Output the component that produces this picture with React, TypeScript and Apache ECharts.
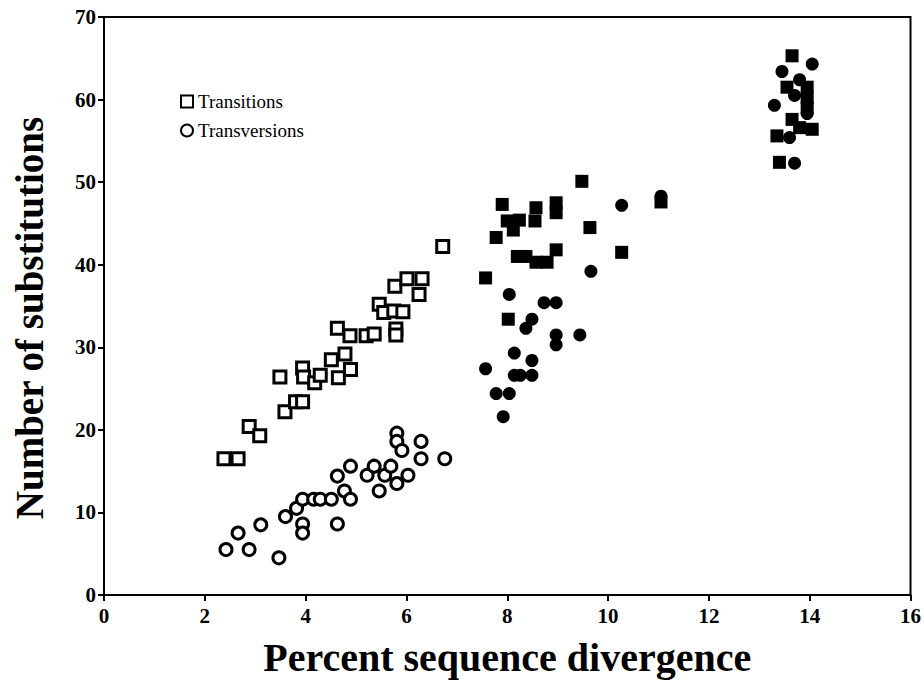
import React, { useEffect, useRef } from "react";
import * as echarts from "echarts";

const xTicks = [0, 2, 4, 6, 8, 10, 12, 14, 16];
const yTicks = [0, 10, 20, 30, 40, 50, 60, 70];

const transitionsOpen: number[][] = [
  [2.38, 16.5], [2.66, 16.5], [2.88, 20.4], [3.09, 19.3], [3.49, 26.4],
  [3.59, 22.2], [3.8, 23.4], [3.94, 23.4], [3.94, 27.5], [3.96, 26.4],
  [4.18, 25.7], [4.29, 26.6], [4.51, 28.5], [4.65, 26.3], [4.89, 27.3],
  [4.78, 29.2], [4.63, 32.3], [4.88, 31.4], [5.2, 31.4], [5.36, 31.6],
  [5.46, 35.2], [5.55, 34.2], [5.75, 34.4], [5.93, 34.3], [5.79, 32.2],
  [5.79, 31.5], [5.77, 37.4], [6.01, 38.3], [6.31, 38.3], [6.25, 36.4],
  [6.72, 42.2],
];

const transversionsOpen: number[][] = [
  [2.42, 5.5], [2.66, 7.5], [2.88, 5.5], [3.11, 8.5], [3.47, 4.5],
  [3.6, 9.5], [3.82, 10.5], [3.94, 11.6], [3.94, 8.6], [3.94, 7.5],
  [4.16, 11.6], [4.29, 11.6], [4.51, 11.6], [4.63, 14.4], [4.63, 8.6],
  [4.77, 12.6], [4.89, 15.6], [4.89, 11.6], [5.22, 14.5], [5.36, 15.6],
  [5.46, 12.6], [5.57, 14.5], [5.69, 15.6], [5.81, 13.5], [5.81, 19.6],
  [5.81, 18.6], [5.91, 17.5], [6.03, 14.5], [6.29, 18.6], [6.29, 16.5],
  [6.76, 16.5],
];

const transitionsFilled: number[][] = [
  [9.48, 50.1], [7.9, 47.3], [8.57, 46.9], [8.97, 47.5], [8.97, 46.3],
  [8.0, 45.3], [8.24, 45.4], [8.55, 45.3], [8.12, 44.2], [9.64, 44.5],
  [7.78, 43.3], [8.97, 41.8], [10.27, 41.5], [8.2, 41.0], [8.37, 41.0],
  [8.57, 40.3], [8.79, 40.3], [7.57, 38.4], [8.02, 33.4], [11.05, 47.6],
  [13.65, 65.3], [13.55, 61.5], [13.95, 61.5], [13.95, 60.2], [13.95, 59.0],
  [13.65, 57.6], [13.8, 56.6], [14.05, 56.4], [13.35, 55.6], [13.4, 52.4],
];

const transversionsFilled: number[][] = [
  [11.05, 48.3], [10.27, 47.2], [9.66, 39.2], [8.04, 36.4], [8.73, 35.4],
  [8.97, 35.4], [8.49, 33.4], [8.37, 32.3], [8.97, 31.5], [8.97, 30.3],
  [9.44, 31.5], [8.14, 29.3], [8.49, 28.4], [7.57, 27.4], [8.14, 26.6],
  [8.26, 26.6], [8.49, 26.6], [7.78, 24.4], [8.04, 24.4], [7.92, 21.6],
  [14.05, 64.3], [13.45, 63.4], [13.8, 62.4], [13.7, 60.5], [13.95, 58.3],
  [13.3, 59.3], [13.6, 55.4], [13.7, 52.3],
];

const SERIF = '"Liberation Serif", "Times New Roman", serif';

export default function App() {
  const ref = useRef<HTMLDivElement>(null);
  useEffect(() => {
    if (!ref.current) return;
    const chart = echarts.init(ref.current, undefined, { renderer: "svg" });
    const openStyle = { color: "#ffffff", borderColor: "#000000", borderWidth: 3, opacity: 1 };
    const filledStyle = { color: "#000000", opacity: 1 };
    chart.setOption({
      animation: false,
      backgroundColor: "#ffffff",
      grid: {
        left: 104,
        right: 10,
        top: 17,
        bottom: 85,
        show: true,
        borderColor: "#000000",
        borderWidth: 2,
        backgroundColor: "transparent",
      },
      legend: {
        data: ["Transitions", "Transversions"],
        orient: "vertical",
        left: 175,
        top: 87,
        itemWidth: 12,
        itemHeight: 12,
        itemGap: 10,
        textStyle: { fontFamily: SERIF, fontSize: 19, color: "#000" },
      },
      xAxis: {
        type: "value",
        min: 0,
        max: 16,
        interval: 2,
        name: "Percent sequence divergence",
        nameLocation: "middle",
        nameGap: 42,
        nameTextStyle: { fontFamily: SERIF, fontSize: 40, fontWeight: "bold", color: "#000" },
        axisLine: { show: true, lineStyle: { color: "#000", width: 2 } },
        axisTick: { show: true, length: 6, lineStyle: { color: "#000", width: 2 } },
        axisLabel: {
          fontFamily: SERIF, fontSize: 21, fontWeight: "bold", color: "#000", margin: 10,
          formatter: (v: number) => (xTicks.includes(v) ? String(v) : ""),
        },
        splitLine: { show: false },
      },
      yAxis: {
        type: "value",
        min: 0,
        max: 70,
        interval: 10,
        name: "Number of substitutions",
        nameLocation: "middle",
        nameGap: 55,
        nameRotate: 90,
        nameTextStyle: {
          fontFamily: SERIF, fontSize: 39, fontWeight: "bold", color: "#000",
          padding: [0, 24, 0, 0],
        },
        axisLine: { show: true, lineStyle: { color: "#000", width: 2 } },
        axisTick: { show: true, length: 6, lineStyle: { color: "#000", width: 2 } },
        axisLabel: {
          fontFamily: SERIF, fontSize: 21, fontWeight: "bold", color: "#000", margin: 8,
          formatter: (v: number) => (yTicks.includes(v) ? String(v) : ""),
        },
        splitLine: { show: false },
      },
      series: [
        {
          name: "Transitions", type: "scatter", symbol: "rect", symbolSize: 12,
          itemStyle: openStyle, data: transitionsOpen,
        },
        {
          name: "Transversions", type: "scatter", symbol: "circle", symbolSize: 12,
          itemStyle: openStyle, data: transversionsOpen,
        },
        {
          name: "Transitions (filled)", type: "scatter", symbol: "rect", symbolSize: 13,
          itemStyle: filledStyle, data: transitionsFilled,
        },
        {
          name: "Transversions (filled)", type: "scatter", symbol: "circle", symbolSize: 13,
          itemStyle: filledStyle, data: transversionsFilled,
        },
      ],
    });
    return () => chart.dispose();
  }, []);
  return (
    <div
      ref={ref}
      style={{ position: "fixed", left: 0, top: 0, width: 924, height: 682 }}
    />
  );
}
